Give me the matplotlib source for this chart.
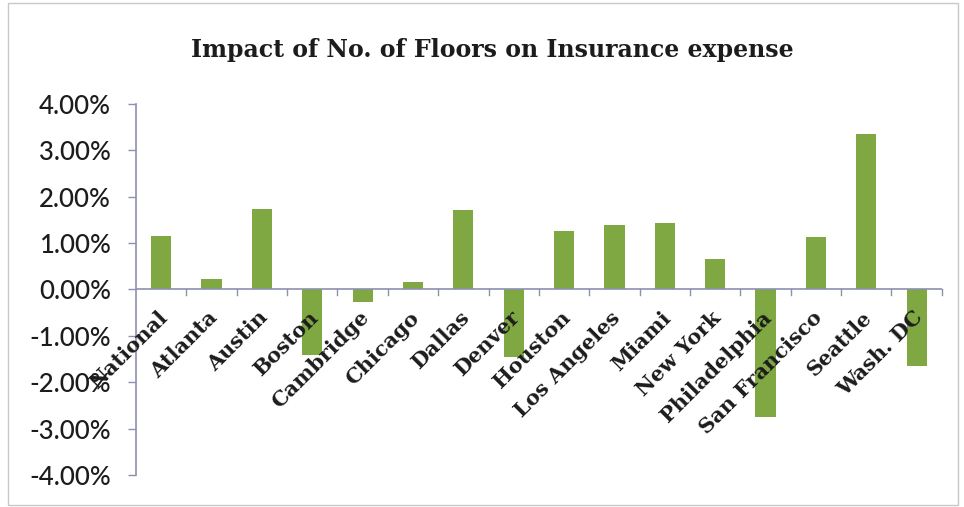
import matplotlib
matplotlib.use("Agg")
import matplotlib.pyplot as plt
import matplotlib.transforms as mtransforms
from matplotlib.patches import Rectangle
from matplotlib.ticker import FuncFormatter

# Insurance expense change per city (percent)
cities = ["National", "Atlanta", "Austin", "Boston", "Cambridge", "Chicago",
          "Dallas", "Denver", "Houston", "Los Angeles", "Miami", "New York",
          "Philadelphia", "San Francisco", "Seattle", "Wash. DC"]
impact_pct = [1.16, 0.22, 1.74, -1.42, -0.27, 0.17, 1.72, -1.46,
              1.26, 1.40, 1.44, 0.66, -2.75, 1.13, 3.36, -1.64]
y_ticks = [-4, -3, -2, -1, 0, 1, 2, 3, 4]

bar_color = "#7fa843"
axis_color = "#8e90ae"
text_color = "#1c1c1c"

fig = plt.figure(figsize=(9.64, 5.07), dpi=100)
ax = fig.add_axes([0.1411, 0.0631, 0.977 - 0.1411, 0.7949 - 0.0631])

x = list(range(len(cities)))
ax.bar(x, impact_pct, width=0.4, color=bar_color, zorder=2)

ax.set_xlim(-0.5, len(cities) - 0.5)
ax.set_ylim(-4, 4)
ax.set_yticks(y_ticks)
ax.yaxis.set_major_formatter(FuncFormatter(lambda v, _: f"{v:.2f}%"))

for side in ["top", "right", "bottom"]:
    ax.spines[side].set_visible(False)
ax.spines["left"].set_color(axis_color)
ax.spines["left"].set_linewidth(1.2)

# zero line acting as category axis, with ticks between categories
ax.axhline(0, color=axis_color, lw=1.2, zorder=3)
ax.tick_params(axis="y", length=6, width=1, color=axis_color, pad=12,
               labelsize=18.5, labelcolor=text_color)
for lab in ax.get_yticklabels():
    lab.set_family("Lato")
    lab.set_fontweight("medium")
ax.set_xticks([])
for b in [i + 0.5 for i in x]:
    ax.plot([b, b], [0, -0.12], color=axis_color, lw=1, zorder=3,
            clip_on=False)

# rotated category labels hanging off the zero line
offset = mtransforms.ScaledTranslation(2 / 72, -18 / 72, fig.dpi_scale_trans)
for i, name in zip(x, cities):
    ax.text(i, 0, name, rotation=45, rotation_mode="anchor", ha="right",
            va="center", fontsize=15, fontweight="bold", family="DejaVu Serif",
            color=text_color, transform=ax.transData + offset, zorder=4)

fig.text(0.511, 0.901, "Impact of No. of Floors on Insurance expense",
         ha="center", va="center", fontsize=17, fontweight="bold",
         family="DejaVu Serif", color=text_color)

# outer chart border
fig.patches.append(Rectangle((0.008, 0.004), 0.986, 0.99, transform=fig.transFigure,
                             fill=False, edgecolor="#c8c8c8", lw=1))

fig.savefig("out.png", dpi=100)
